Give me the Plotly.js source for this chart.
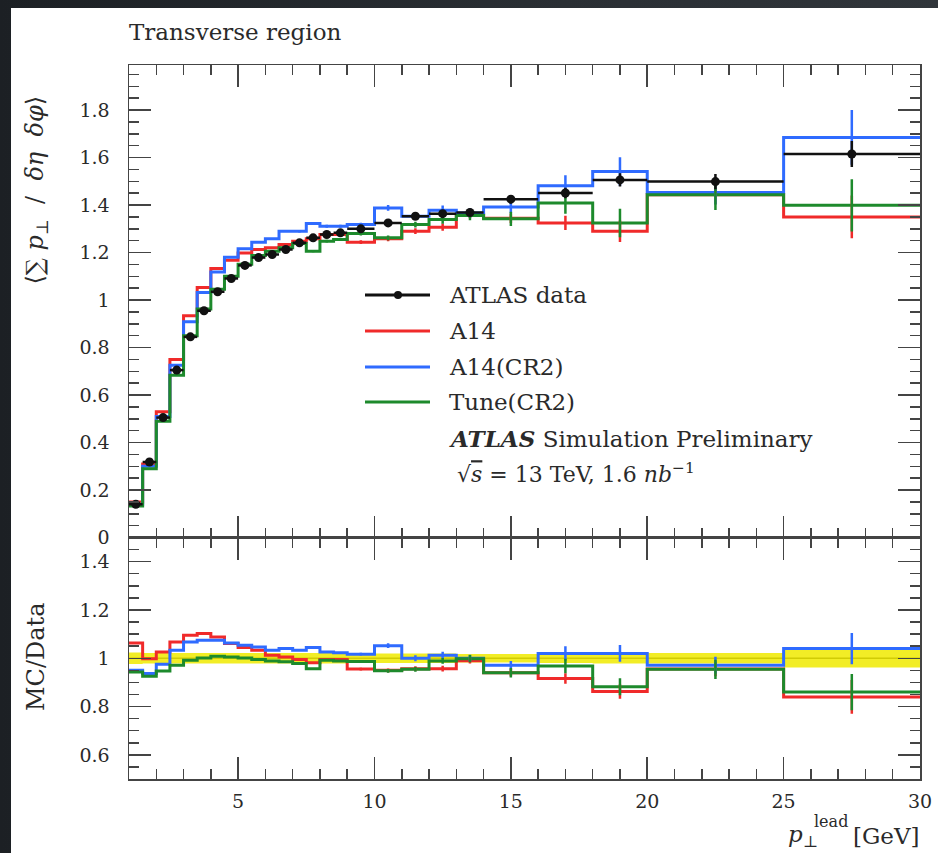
<!DOCTYPE html>
<html><head><meta charset="utf-8">
<script src="https://cdn.plot.ly/plotly-3.0.1.min.js"></script>
<style>
html,body{margin:0;padding:0;width:938px;height:853px;overflow:hidden;background:linear-gradient(90deg,#1c2024,#2a2f34 60%,#30353a);}
#wrap{position:absolute;left:11px;top:8px;width:927px;height:845px;background:#fff;}
#plot{width:927px;height:845px;}
</style></head><body><div id="wrap"><div id="plot"></div></div>
<script>
// ---- data ----
const binEdges = [1,1.5,2,2.5,3,3.5,4,4.5,5,5.5,6,6.5,7,7.5,8,8.5,9,10,11,12,13,14,16,18,20,25,30];
const dataVals = [0.14,0.318,0.505,0.705,0.845,0.955,1.035,1.091,1.146,1.179,1.192,1.213,1.241,1.262,1.276,1.283,1.30,1.325,1.353,1.364,1.369,1.425,1.451,1.506,1.499,1.615];
const dataErr  = [0.003,0.005,0.007,0.01,0.01,0.012,0.012,0.012,0.012,0.012,0.012,0.012,0.013,0.013,0.013,0.013,0.014,0.015,0.015,0.016,0.016,0.018,0.022,0.028,0.032,0.055];
const a14Vals   = [0.15,0.31,0.53,0.75,0.934,1.053,1.133,1.168,1.198,1.213,1.22,1.234,1.248,1.258,1.276,1.276,1.244,1.258,1.29,1.307,1.36,1.345,1.325,1.29,1.444,1.35];
const a14cr2Vals = [0.14,0.30,0.51,0.725,0.909,1.032,1.118,1.18,1.216,1.244,1.258,1.29,1.29,1.322,1.311,1.311,1.318,1.388,1.353,1.378,1.367,1.392,1.481,1.541,1.453,1.685];
const tuneVals  = [0.133,0.29,0.49,0.683,0.85,0.962,1.046,1.10,1.151,1.188,1.206,1.22,1.238,1.206,1.248,1.255,1.28,1.262,1.318,1.339,1.356,1.342,1.409,1.325,1.444,1.399];
const a14Err    = [0,0,0,0,0,0,0,0,0,0,0,0,0.005,0.005,0.006,0.006,0.008,0.01,0.012,0.015,0.015,0.02,0.03,0.045,0.04,0.09];
const a14cr2Err = [0,0,0,0,0,0,0,0,0,0,0,0,0.005,0.005,0.006,0.006,0.008,0.012,0.015,0.02,0.02,0.025,0.045,0.06,0.05,0.115];
const tuneErr   = [0,0,0,0,0,0,0,0,0,0,0,0,0.005,0.005,0.006,0.006,0.008,0.01,0.012,0.018,0.02,0.03,0.045,0.06,0.065,0.11];
// MC / Data ratios
const a14Ratio    = [1.063,0.998,1.026,1.067,1.095,1.102,1.088,1.061,1.044,1.033,1.012,1.005,0.995,0.981,0.995,0.995,0.955,0.95,0.957,0.957,0.99,0.94,0.916,0.862,0.955,0.84];
const a14cr2Ratio = [0.95,0.937,0.975,1.033,1.067,1.075,1.075,1.063,1.054,1.047,1.033,1.040,1.033,1.044,1.026,1.023,1.017,1.052,1.0,1.012,1.0,0.971,1.02,1.02,0.971,1.04];
const tuneRatio   = [0.943,0.925,0.947,0.971,0.992,1.001,1.008,1.005,1.001,0.995,0.989,0.985,0.978,0.957,0.992,0.989,0.987,0.948,0.954,0.989,0.998,0.94,0.968,0.882,0.954,0.86];
const a14RatioErr    = [0,0,0,0,0,0,0,0,0,0,0,0,0,0,0,0,0.006,0.008,0.01,0.012,0.012,0.015,0.022,0.03,0.03,0.07];
const a14cr2RatioErr = [0,0,0,0,0,0,0,0,0,0,0,0,0,0,0,0,0.006,0.01,0.012,0.015,0.015,0.018,0.03,0.035,0.035,0.065];
const tuneRatioErr   = [0,0,0,0,0,0,0,0,0,0,0,0,0,0,0,0,0.006,0.008,0.01,0.012,0.015,0.02,0.03,0.035,0.04,0.075];
const bandRelErr = [0.024,0.022,0.022,0.022,0.022,0.022,0.022,0.022,0.022,0.022,0.022,0.022,0.022,0.022,0.022,0.022,0.02,0.02,0.02,0.02,0.018,0.018,0.02,0.022,0.022,0.038];
const seriesNames = ['ATLAS data','A14','A14(CR2)','Tune(CR2)'];
const xTickVals = [5,10,15,20,25,30];

// ---- styling ----
const C_DATA = '#111111', C_RED = '#f02a2a', C_BLUE = '#2f6bff', C_GREEN = '#1d8a2c';
const FONT = 'DejaVu Serif, Liberation Serif, serif';
const LW = 3;

const centers = binEdges.slice(0,-1).map((e,i)=>(e+binEdges[i+1])/2);
const halfW = binEdges.slice(0,-1).map((e,i)=>(binEdges[i+1]-e)/2);
const step = v => v.concat([v[v.length-1]]);

function histo(vals, color, xa, ya){
  return {x: binEdges, y: step(vals), mode:'lines', line:{shape:'hv', color, width:LW}, xaxis:xa, yaxis:ya, hoverinfo:'skip', showlegend:false};
}
function errs(vals, err, color, xa, ya){
  return {x: centers, y: vals, mode:'markers', marker:{size:0.1, color}, xaxis:xa, yaxis:ya,
    error_y:{type:'data', array:err, visible:true, color, thickness:2.5, width:0}, hoverinfo:'skip', showlegend:false};
}

const traces = [];
// lower panel band first
const ones = dataVals.map(v=>v/v);
traces.push({x: binEdges, y: step(ones), mode:'lines', line:{shape:'hv', color:'#222', width:1.5}, xaxis:'x2', yaxis:'y2', hoverinfo:'skip', showlegend:false});
traces.push({x: binEdges, y: step(bandRelErr.map(e=>1-e)), mode:'lines', line:{shape:'hv', width:0, color:'rgba(0,0,0,0)'}, xaxis:'x2', yaxis:'y2', hoverinfo:'skip', showlegend:false});
traces.push({x: binEdges, y: step(bandRelErr.map(e=>1+e)), mode:'lines', fill:'tonexty', fillcolor:'rgba(240,234,0,0.85)', line:{shape:'hv', width:0, color:'rgba(0,0,0,0)'}, xaxis:'x2', yaxis:'y2', hoverinfo:'skip', showlegend:false});

traces.push(histo(a14Vals, C_RED, 'x','y'));
traces.push(histo(a14cr2Vals, C_BLUE, 'x','y'));
traces.push(histo(tuneVals, C_GREEN, 'x','y'));
traces.push(errs(a14Vals, a14Err, C_RED, 'x','y'));
traces.push(errs(a14cr2Vals, a14cr2Err, C_BLUE, 'x','y'));
traces.push(errs(tuneVals, tuneErr, C_GREEN, 'x','y'));
traces.push({x: centers, y: dataVals, mode:'markers', marker:{size:9, color:C_DATA}, xaxis:'x', yaxis:'y',
  error_x:{type:'data', array:halfW, visible:true, color:C_DATA, thickness:2.5, width:0},
  error_y:{type:'data', array:dataErr, visible:true, color:C_DATA, thickness:2.5, width:0}, hoverinfo:'skip', showlegend:false});

traces.push(histo(a14Ratio, C_RED, 'x2','y2'));
traces.push(histo(a14cr2Ratio, C_BLUE, 'x2','y2'));
traces.push(histo(tuneRatio, C_GREEN, 'x2','y2'));
traces.push(errs(a14Ratio, a14RatioErr, C_RED, 'x2','y2'));
traces.push(errs(a14cr2Ratio, a14cr2RatioErr, C_BLUE, 'x2','y2'));
traces.push(errs(tuneRatio, tuneRatioErr, C_GREEN, 'x2','y2'));

// pixel helpers (page coords -> paper coords)
const PL=129, PW=791, PT=65, PH=714;
const px = x => (x-PL)/PW;
const py = y => 1-(y-PT)/PH;

const axisCommon = {showline:true, linecolor:'#444', linewidth:1.5, mirror:'ticks', ticks:'inside', ticklen:22, tickwidth:1.5, tickcolor:'#444',
  showgrid:false, zeroline:false, tickfont:{family:FONT, size:19, color:'#2a2a2a'}};
const split = 1-(537.5-PT)/PH;

const legendRows = [295,331,367,402];
const legendColors = [C_DATA, C_RED, C_BLUE, C_GREEN];
const shapes = [];
const annotations = [];
legendRows.forEach((yy,i)=>{
  shapes.push({type:'line', xref:'paper', yref:'paper', x0:px(365), x1:px(430), y0:py(yy), y1:py(yy), line:{color:legendColors[i], width:3}});
  annotations.push({xref:'paper', yref:'paper', x:px(447), y:py(yy), xanchor:'left', yanchor:'middle', showarrow:false,
    text: seriesNames[i], font:{family:FONT, size:23, color:'#2a2a2a'}});
});
shapes.push({type:'circle', xref:'paper', yref:'paper', x0:px(394), x1:px(402), y0:py(291), y1:py(299), fillcolor:C_DATA, line:{width:0}});
annotations.push({xref:'paper', yref:'paper', x:px(447), y:py(438), xanchor:'left', yanchor:'middle', showarrow:false,
  text:'<b><i>ATLAS</i></b> Simulation Preliminary', font:{family:FONT, size:23, color:'#2a2a2a'}});
annotations.push({xref:'paper', yref:'paper', x:px(455), y:py(473), xanchor:'left', yanchor:'middle', showarrow:false,
  text:'√<span style="text-decoration:overline"><i>s</i></span> = 13 TeV, 1.6 <i>nb</i><sup>−1</sup>', font:{family:FONT, size:22, color:'#2a2a2a'}});
// titles
annotations.push({xref:'paper', yref:'paper', x:px(127), y:py(32), xanchor:'left', yanchor:'middle', showarrow:false,
  text:'Transverse region', font:{family:FONT, size:23, color:'#2a2a2a'}});
annotations.push({xref:'paper', yref:'paper', x:px(36), y:py(94), xanchor:'center', yanchor:'top', textangle:-90, showarrow:false,
  text:'⟨∑ <i>p</i><sub>⊥</sub>  /  <i>δη</i>  <i>δφ</i>⟩', font:{family:FONT, size:24, color:'#2a2a2a'}});
annotations.push({xref:'paper', yref:'paper', x:px(36), y:py(657), xanchor:'center', yanchor:'middle', textangle:-90, showarrow:false,
  text:'MC/Data', font:{family:FONT, size:24, color:'#2a2a2a'}});
annotations.push({xref:'paper', yref:'paper', x:px(922), y:py(836), xanchor:'right', yanchor:'middle', showarrow:false,
  text:'[GeV]', font:{family:FONT, size:23, color:'#2a2a2a'}});
annotations.push({xref:'paper', yref:'paper', x:px(850), y:py(821), xanchor:'right', yanchor:'middle', showarrow:false,
  text:'lead', font:{family:FONT, size:16, color:'#2a2a2a'}});
annotations.push({xref:'paper', yref:'paper', x:px(820), y:py(836), xanchor:'right', yanchor:'middle', showarrow:false,
  text:'<i>p</i><sub>⊥</sub>', font:{family:FONT, size:23, color:'#2a2a2a'}});

const layout = {
  width:927, height:845,
  margin:{l:118, r:18, t:57, b:74},
  paper_bgcolor:'#ffffff', plot_bgcolor:'#ffffff',
  showlegend:false,
  font:{family:FONT, color:'#2a2a2a'},
  xaxis: Object.assign({}, axisCommon, {domain:[0,1], anchor:'y', range:[1,30], showticklabels:false, tickvals:xTickVals,
    minor:{dtick:1, ticks:'inside', ticklen:10, tickwidth:1.5, tickcolor:'#444'}}),
  yaxis: Object.assign({}, axisCommon, {domain:[split,1], anchor:'x', range:[0,1.99], dtick:0.2, tick0:0, ticklabelstandoff:14,
    minor:{dtick:0.05, ticks:'inside', ticklen:10, tickwidth:1.5, tickcolor:'#444'}}),
  xaxis2: Object.assign({}, axisCommon, {domain:[0,1], anchor:'y2', range:[1,30], matches:'x', tickvals:xTickVals, ticklabelstandoff:5,
    minor:{dtick:1, ticks:'inside', ticklen:10, tickwidth:1.5, tickcolor:'#444'}}),
  yaxis2: Object.assign({}, axisCommon, {domain:[0,split], anchor:'x2', range:[0.5,1.5], dtick:0.2, tick0:0, ticklabelstandoff:14,
    minor:{dtick:0.05, ticks:'inside', ticklen:10, tickwidth:1.5, tickcolor:'#444'}}),
  shapes, annotations
};
Plotly.newPlot('plot', traces, layout, {staticPlot:true, displayModeBar:false});
</script></body></html>
